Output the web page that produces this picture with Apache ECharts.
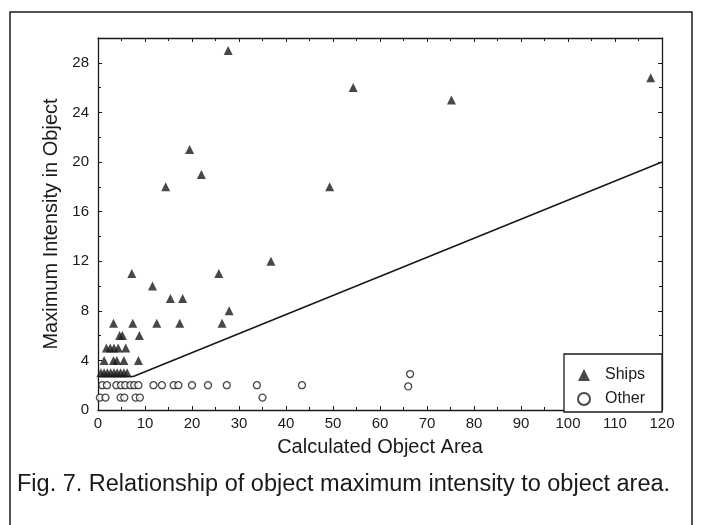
<!DOCTYPE html>
<html>
<head>
<meta charset="utf-8">
<script src="https://cdn.jsdelivr.net/npm/echarts@6/dist/echarts.min.js"></script>
<style>
  html, body { margin: 0; padding: 0; background: #fff; }
  #chart { width: 702px; height: 525px; }
</style>
</head>
<body>
<div id="chart"></div>
<script>
// values
const shipsArea = [27.7, 54.3, 75.2, 117.6, 19.5, 22, 14.4, 49.3, 36.8, 7.2, 25.7, 11.6, 15.4, 18,
  27.9, 3.3, 7.4, 12.5, 17.4, 26.4, 4.6, 5.2, 8.8, 1.8, 2.6, 3.4, 4.3, 5.9,
  1.3, 3.3, 4.0, 5.5, 8.6, 0.6, 1.3, 2.0, 2.7, 3.4, 4.1, 4.8, 5.5, 6.2];
const shipsIntensity = [29, 26, 25, 26.8, 21, 19, 18, 18, 12, 11, 11, 10, 9, 9,
  8, 7, 7, 7, 7, 7, 6, 6, 6, 5, 5, 5, 5, 5,
  4, 4, 4, 4, 4, 3, 3, 3, 3, 3, 3, 3, 3, 3];

const otherArea = [0.4, 1.6, 4.8, 5.6, 8.0, 8.9,
  0.9, 1.9, 3.9, 4.9, 5.8, 6.9, 7.7, 8.6, 11.8, 13.6, 16.1, 17.1, 20.0, 23.4, 27.4, 33.8, 43.4, 66.0,
  35, 66.4, 100.5];
const otherIntensity = [1, 1, 1, 1, 1, 1,
  2, 2, 2, 2, 2, 2, 2, 2, 2, 2, 2, 2, 2, 2, 2, 2, 2, 1.9,
  1, 2.9, 2.7];

// threshold line
const lineArea = [0, 7.5, 120];
const lineIntensity = [2.7, 2.7, 20];

const caption = 'Fig. 7. Relationship of object maximum intensity to object area.';

const ink = '#1a1a1a';
const font = 'Liberation Sans, Arial, sans-serif';

function pairs(xs, ys) {
  return xs.map((x, i) => [x, ys[i]]);
}

const chart = echarts.init(document.getElementById('chart'), null, { renderer: 'canvas' });

const baseX = {
  type: 'value',
  min: 0,
  max: 120,
  interval: 10,
  axisLine: { show: true, onZero: false, lineStyle: { color: ink, width: 1.3 } },
  axisTick: { show: true, inside: true, length: 4, lineStyle: { color: ink, width: 1 } },
  minorTick: { show: true, splitNumber: 2, length: 3, lineStyle: { color: ink, width: 1 } },
  splitLine: { show: false },
  minorSplitLine: { show: false }
};
const baseY = {
  type: 'value',
  min: 0,
  max: 30,
  interval: 4,
  axisLine: { show: true, onZero: false, lineStyle: { color: ink, width: 1.3 } },
  axisTick: { show: true, inside: true, length: 4, lineStyle: { color: ink, width: 1 } },
  minorTick: { show: true, splitNumber: 2, length: 3, lineStyle: { color: ink, width: 1 } },
  splitLine: { show: false },
  minorSplitLine: { show: false }
};

const option = {
  animation: false,
  backgroundColor: '#fff',
  textStyle: { fontFamily: font },
  grid: { left: 98, right: 40, top: 38, bottom: 115 },
  legend: {
    orient: 'vertical',
    left: 564,
    top: 354,
    data: ['Ships', 'Other'],
    itemWidth: 12,
    itemHeight: 12,
    itemGap: 8,
    padding: [13, 17, 5, 13],
    backgroundColor: '#fff',
    borderColor: ink,
    borderWidth: 1.3,
    borderRadius: 0,
    textStyle: { fontSize: 16, color: ink, fontFamily: font, padding: [0, 0, 0, 10] }
  },
  xAxis: [
    Object.assign({}, baseX, {
      position: 'bottom',
      name: 'Calculated Object Area',
      nameLocation: 'middle',
      nameGap: 27,
      nameTextStyle: { fontSize: 20, color: ink, fontFamily: font },
      axisLabel: { fontSize: 15, color: ink, margin: 6, fontFamily: font }
    }),
    Object.assign({}, baseX, { position: 'top', axisLabel: { show: false } })
  ],
  yAxis: [
    Object.assign({}, baseY, {
      position: 'left',
      name: 'Maximum Intensity in Object',
      nameLocation: 'middle',
      nameGap: 27,
      nameTextStyle: { fontSize: 20, color: ink, fontFamily: font },
      axisLabel: { fontSize: 15, color: ink, margin: 9, showMaxLabel: false, fontFamily: font }
    }),
    Object.assign({}, baseY, { position: 'right', axisLabel: { show: false } })
  ],
  series: [
    {
      name: 'threshold',
      type: 'line',
      data: pairs(lineArea, lineIntensity),
      showSymbol: false,
      symbol: 'none',
      lineStyle: { color: ink, width: 1.7 },
      z: 2
    },
    {
      name: 'Ships',
      type: 'scatter',
      symbol: 'triangle',
      symbolSize: 9,
      data: pairs(shipsArea, shipsIntensity),
      itemStyle: { color: ink },
      z: 3
    },
    {
      name: 'Other',
      type: 'scatter',
      symbol: 'circle',
      symbolSize: 7,
      data: pairs(otherArea, otherIntensity),
      itemStyle: { color: '#fff', borderColor: ink, borderWidth: 1.3 },
      z: 3
    }
  ],
  graphic: [
    {
      type: 'rect',
      shape: { x: 10, y: 12, width: 682, height: 530 },
      style: { fill: 'none', stroke: ink, lineWidth: 1.5 },
      silent: true
    },
    {
      type: 'text',
      left: 17,
      top: 473,
      style: { text: caption, fontSize: 23.5, fontFamily: font, fill: ink }
    }
  ]
};

chart.setOption(option);
</script>
</body>
</html>
